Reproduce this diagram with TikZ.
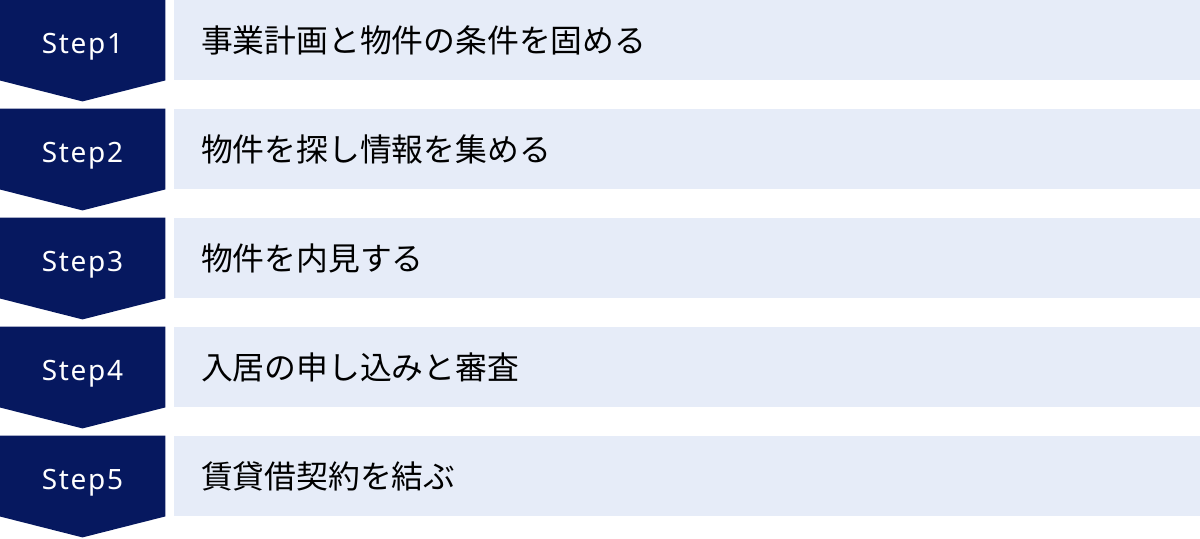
\documentclass[tikz,border=0pt]{standalone}
\usepackage{fontspec}
\setmainfont{Noto Sans}
\newfontfamily\stepfont[LetterSpace=6]{Noto Sans}
\newfontfamily\jpfont{Noto Sans CJK JP}
\definecolor{stepnavy}{HTML}{06185F}
\definecolor{rowblue}{HTML}{E6ECF8}
\usetikzlibrary{calc, backgrounds}

\begin{document}
\begin{tikzpicture}[x=0.5pt, y=-0.5pt,
      stepbox/.style={text=white, inner sep=0pt,
                    minimum width=82.5pt, minimum height=40pt,
                    text height=13pt, text depth=0pt,
                    font=\stepfont\fontsize{14}{16}\selectfont},
      rowbox/.style={fill=rowblue, inner xsep=13.5pt, inner ysep=0pt,
                    text width=486pt, minimum height=40pt, align=left,
                    font=\jpfont\fontsize{15.9}{18}\selectfont},
      tip/.style={fill=stepnavy}
    ]
      \useasboundingbox (0,0) rectangle (1200,538);

      \node[stepbox] (s1) at (82.5,40) {Step1};
      \node[stepbox] (s2) at (82.5,149) {Step2};
      \node[stepbox] (s3) at (82.5,258) {Step3};
      \node[stepbox] (s4) at (82.5,367) {Step4};
      \node[stepbox] (s5) at (82.5,476) {Step5};

      \coordinate (t1) at ($(s1.south)+(0,21)$);
      \coordinate (t2) at ($(s2.south)+(0,21)$);
      \coordinate (t3) at ($(s3.south)+(0,21)$);
      \coordinate (t4) at ($(s4.south)+(0,21)$);
      \coordinate (t5) at ($(s5.south)+(0,21)$);

      \node[rowbox] (r1) at (687,40) {事業計画と物件の条件を固める};
      \node[rowbox] (r2) at (687,149) {物件を探し情報を集める};
      \node[rowbox] (r3) at (687,258) {物件を内見する};
      \node[rowbox] (r4) at (687,367) {入居の申し込みと審査};
      \node[rowbox] (r5) at (687,476) {賃貸借契約を結ぶ};

      \begin{scope}[on background layer]
        \fill[tip] (s1.north west) -- (s1.north east) -- (s1.south east) -- (t1) -- (s1.south west) -- cycle;
        \fill[tip] (s2.north west) -- (s2.north east) -- (s2.south east) -- (t2) -- (s2.south west) -- cycle;
        \fill[tip] (s3.north west) -- (s3.north east) -- (s3.south east) -- (t3) -- (s3.south west) -- cycle;
        \fill[tip] (s4.north west) -- (s4.north east) -- (s4.south east) -- (t4) -- (s4.south west) -- cycle;
        \fill[tip] (s5.north west) -- (s5.north east) -- (s5.south east) -- (t5) -- (s5.south west) -- cycle;
      \end{scope}
    \end{tikzpicture}
\end{document}
